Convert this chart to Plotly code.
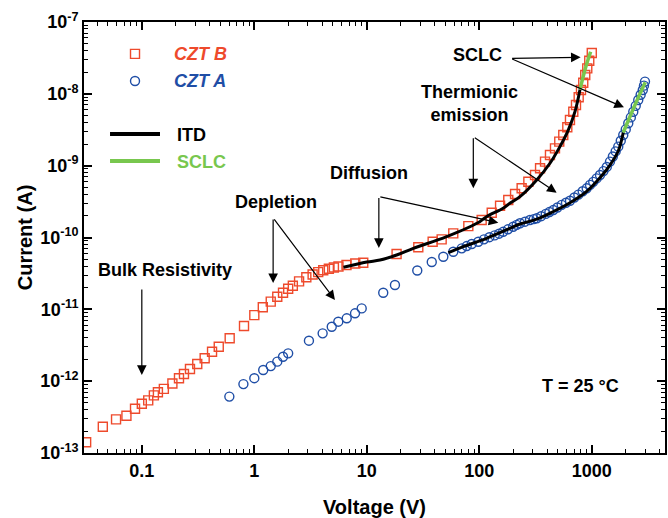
import math
import plotly.graph_objects as go

# ---- measured I-V data -------------------------------------------------
czt_b_v = [0.032, 0.045, 0.059, 0.073, 0.087, 0.100, 0.114, 0.128, 0.139, 0.157,
           0.187, 0.214, 0.237, 0.268, 0.311, 0.362, 0.421, 0.483, 0.604, 0.81,
           1.0, 1.19, 1.40, 1.60, 1.80, 2.0, 2.2, 2.5, 2.9, 3.3,
           3.7, 4.1, 4.6, 5.1, 5.6, 6.6, 7.9, 9.3, 18.4, 28.7,
           38.5, 46.3, 58.7, 79.9, 105, 129, 153, 181, 208, 238,
           273, 313, 347, 384, 425, 471, 514, 558, 606, 640,
           685, 724, 765, 802, 840, 875, 912, 950, 1000]
czt_b_i = [1.41e-13, 2.32e-13, 2.94e-13, 3.3e-13, 4.13e-13, 4.85e-13, 5.4e-13, 6.35e-13, 7.0e-13, 7.8e-13,
           9.3e-13, 1.1e-12, 1.26e-12, 1.48e-12, 1.73e-12, 2.08e-12, 2.57e-12, 3.02e-12, 3.95e-12, 5.86e-12,
           8.3e-12, 1.07e-11, 1.28e-11, 1.5e-11, 1.7e-11, 1.93e-11, 2.13e-11, 2.45e-11, 2.8e-11, 3.05e-11,
           3.3e-11, 3.5e-11, 3.68e-11, 3.82e-11, 3.95e-11, 4.15e-11, 4.35e-11, 4.46e-11, 5.89e-11, 7.3e-11,
           8.73e-11, 9.43e-11, 1.14e-10, 1.44e-10, 1.75e-10, 2.21e-10, 2.77e-10, 3.33e-10, 4.03e-10, 4.84e-10,
           5.98e-10, 7.41e-10, 9.19e-10, 1.14e-9, 1.41e-9, 1.74e-9, 2.16e-9, 2.67e-9, 3.42e-9, 4.32e-9,
           5.64e-9, 6.98e-9, 8.95e-9, 1.13e-8, 1.43e-8, 1.83e-8, 2.26e-8, 2.89e-8, 3.7e-8]

czt_a_v = [0.6, 0.8, 1.0, 1.2, 1.4, 1.6, 1.8, 2.0, 3.06, 4.05,
           4.88, 5.58, 6.63, 7.86, 9.01, 14.0, 17.8, 28.1, 37.8, 47.9,
           58.7, 69.8, 77.3, 85.6, 98.0, 110, 123, 137, 150, 163,
           180, 200, 215, 230, 255, 282, 305, 324, 355, 390,
           420, 455, 495, 540, 590, 640, 700, 760, 830, 901,
           965, 1030, 1105, 1183, 1270, 1360, 1452, 1540, 1630, 1720,
           1810, 1905, 2005, 2111, 2225, 2339, 2460, 2589, 2720, 2841,
           2910, 2971]
czt_a_i = [6.1e-13, 9.1e-13, 1.1e-12, 1.43e-12, 1.62e-12, 1.87e-12, 2.19e-12, 2.44e-12, 3.66e-12, 4.63e-12,
           5.73e-12, 6.73e-12, 7.5e-12, 8.8e-12, 1.03e-11, 1.7e-11, 2.18e-11, 3.47e-11, 4.56e-11, 5.4e-11,
           6.34e-11, 7.06e-11, 7.6e-11, 8.12e-11, 8.73e-11, 9.43e-11, 1.01e-10, 1.07e-10, 1.13e-10, 1.2e-10,
           1.3e-10, 1.41e-10, 1.5e-10, 1.58e-10, 1.66e-10, 1.75e-10, 1.8e-10, 1.85e-10, 1.98e-10, 2.13e-10,
           2.26e-10, 2.41e-10, 2.62e-10, 2.85e-10, 3.05e-10, 3.25e-10, 3.6e-10, 3.95e-10, 4.4e-10, 4.84e-10,
           5.4e-10, 5.95e-10, 6.65e-10, 7.41e-10, 8.4e-10, 9.6e-10, 1.14e-9, 1.34e-9, 1.58e-9, 1.84e-9,
           2.22e-9, 2.67e-9, 3.2e-9, 3.89e-9, 4.7e-9, 5.64e-9, 6.8e-9, 8.2e-9, 9.7e-9, 1.13e-8,
           1.3e-8, 1.48e-8]

# ---- model curves ------------------------------------------------------
itd_b_v = [6.2, 10, 13.1, 18.4, 25.9, 51.3, 101, 116, 163, 187, 230, 324, 425, 521, 618, 709, 786]
itd_b_i = [3.85e-11, 4.55e-11, 4.85e-11, 5.7e-11, 7.06e-11, 1.03e-10, 1.66e-10, 1.95e-10, 2.55e-10,
           2.99e-10, 3.7e-10, 6.31e-10, 1.08e-9, 1.84e-9, 3.13e-9, 5.64e-9, 1.15e-8]
sclc_b_v = [786, 879, 977]
sclc_b_i = [1.15e-8, 2.29e-8, 3.86e-8]

itd_a_v = [53.1, 72, 116, 187, 230, 324, 455, 640, 901, 1183, 1452, 1720, 1905]
itd_a_i = [6.14e-11, 7.45e-11, 9.75e-11, 1.34e-10, 1.54e-10, 1.8e-10, 2.3e-10, 3.05e-10, 4.4e-10,
           6.8e-10, 1.02e-9, 1.6e-9, 2.9e-9]
sclc_a_v = [1905, 2421, 2990]
sclc_a_i = [2.9e-9, 7.0e-9, 1.45e-8]

# tick labels
x_ticks = [0.1, 1, 10, 100, 1000]
x_tick_text = ["0.1", "1", "10", "100", "1000"]
y_exponents = [-13, -12, -11, -10, -9, -8, -7]

RED = "#EE4A2C"
BLUE = "#1F4EA6"
GREEN = "#78C74E"
FONT = "Liberation Sans, Arial, sans-serif"

fig = go.Figure()
fig.add_trace(go.Scatter(x=czt_b_v, y=czt_b_i, mode="markers", name="CZT B",
                         marker=dict(symbol="square-open", size=9, color=RED,
                                     line=dict(width=1.4, color=RED))))
fig.add_trace(go.Scatter(x=czt_a_v, y=czt_a_i, mode="markers", name="CZT A",
                         marker=dict(symbol="circle-open", size=9, color=BLUE,
                                     line=dict(width=1.4, color=BLUE))))
fig.add_trace(go.Scatter(x=itd_b_v, y=itd_b_i, mode="lines", name="ITD",
                         line=dict(color="black", width=3, shape="spline")))
fig.add_trace(go.Scatter(x=itd_a_v, y=itd_a_i, mode="lines", name="ITD",
                         line=dict(color="black", width=3, shape="spline")))
fig.add_trace(go.Scatter(x=sclc_b_v, y=sclc_b_i, mode="lines", name="SCLC",
                         line=dict(color=GREEN, width=3.5, shape="spline")))
fig.add_trace(go.Scatter(x=sclc_a_v, y=sclc_a_i, mode="lines", name="SCLC",
                         line=dict(color=GREEN, width=3.5, shape="spline")))

L = math.log10


def label(text, v, i, size=18, color="black", **kw):
    fig.add_annotation(x=L(v), y=L(i), xref="x", yref="y", text=text, showarrow=False,
                       xanchor="center", yanchor="middle",
                       font=dict(family=FONT, size=size, color=color, weight="bold"), **kw)


def arrow(v0, i0, v1, i1):
    fig.add_annotation(x=L(v1), y=L(i1), ax=L(v0), ay=L(i0), xref="x", yref="y",
                       axref="x", ayref="y", text="", showarrow=True, arrowhead=2,
                       arrowsize=1.6, arrowwidth=1.2, arrowcolor="black", standoff=0,
                       startstandoff=0)


label("Bulk Resistivity", 0.161, 3.52e-11)
arrow(0.1, 1.98e-11, 0.1, 1.22e-12)

label("Depletion", 1.55, 3.15e-10)
arrow(1.47, 1.87e-10, 1.47, 2.32e-11)
arrow(1.47, 1.87e-10, 5.21, 1.35e-11)

label("Diffusion", 10.5, 7.9e-10)
arrow(12.8, 3.72e-10, 12.8, 7.15e-11)
arrow(12.8, 3.72e-10, 147.6, 1.61e-10)

label("Thermionic<br>emission", 81.5, 7.36e-9)
arrow(88.5, 2.53e-9, 88.5, 4.84e-10)
arrow(88.5, 2.53e-9, 487.5, 4.2e-10)

label("SCLC", 96.4, 3.47e-8)
arrow(190, 3.12e-8, 796, 3.23e-8)
arrow(190, 3.12e-8, 1932, 6.49e-9)

label("T = 25 °C", 800, 8.55e-13)

# ---- legend block ------------------------------------------------------
fig.add_shape(type="rect", xref="paper", yref="paper", xsizemode="pixel", ysizemode="pixel",
              xanchor=0.0878, yanchor=0.926, x0=-4.5, x1=4.5, y0=-4.5, y1=4.5,
              line=dict(color=RED, width=1.4))
fig.add_shape(type="circle", xref="paper", yref="paper", xsizemode="pixel", ysizemode="pixel",
              xanchor=0.0878, yanchor=0.863, x0=-4.5, x1=4.5, y0=-4.5, y1=4.5,
              line=dict(color=BLUE, width=1.4))
fig.add_shape(type="line", xref="paper", yref="paper", x0=0.0448, x1=0.1308, y0=0.740, y1=0.740,
              line=dict(color="black", width=4))
fig.add_shape(type="line", xref="paper", yref="paper", x0=0.0448, x1=0.1308, y0=0.6775, y1=0.6775,
              line=dict(color=GREEN, width=4))

for txt, yy, col, ital, xx in [("CZT B", 0.926, RED, True, 0.1515),
                               ("CZT A", 0.863, BLUE, True, 0.1515),
                               ("ITD", 0.738, "black", False, 0.1566),
                               ("SCLC", 0.675, GREEN, False, 0.1566)]:
    fig.add_annotation(x=xx, y=yy, xref="paper", yref="paper", xanchor="left", yanchor="middle",
                       showarrow=False, text=f"<i>{txt}</i>" if ital else txt,
                       font=dict(family=FONT, size=18, color=col, weight="bold"))

minor_x = [m * 10 ** e for e in range(-2, 4) for m in range(2, 10)]
minor_y = [m * 10.0 ** e for e in range(-13, -7) for m in range(2, 10)]

axis_common = dict(type="log", showgrid=False, zeroline=False, showline=True, linewidth=2,
                   linecolor="black", mirror="ticks", ticks="inside", ticklen=8, tickwidth=1.6,
                   tickcolor="black",
                   tickfont=dict(family=FONT, size=18, color="black", weight="bold"))

fig.update_xaxes(**axis_common, range=[-1.514, 3.651], tickmode="array", tickvals=x_ticks,
                 ticktext=x_tick_text,
                 minor=dict(tickmode="array", tickvals=minor_x, ticks="inside", ticklen=4,
                            tickwidth=1.2, tickcolor="black", showgrid=False),
                 title=dict(text="Voltage (V)", standoff=20,
                            font=dict(family=FONT, size=20, color="black", weight="bold")))
fig.update_yaxes(**axis_common, range=[-13, -7], tickmode="array",
                 tickvals=[10.0 ** e for e in y_exponents],
                 ticktext=[f"10<sup>{e}</sup>" for e in y_exponents],
                 minor=dict(tickmode="array", tickvals=minor_y, ticks="inside", ticklen=4,
                            tickwidth=1.2, tickcolor="black", showgrid=False),
                 title=dict(text="Current (A)", standoff=2,
                            font=dict(family=FONT, size=20, color="black", weight="bold")))

fig.update_layout(width=668, height=518, margin=dict(l=84, r=3, t=22, b=65, autoexpand=False),
                  paper_bgcolor="white", plot_bgcolor="white", showlegend=False)

fig.write_html("out.html")
